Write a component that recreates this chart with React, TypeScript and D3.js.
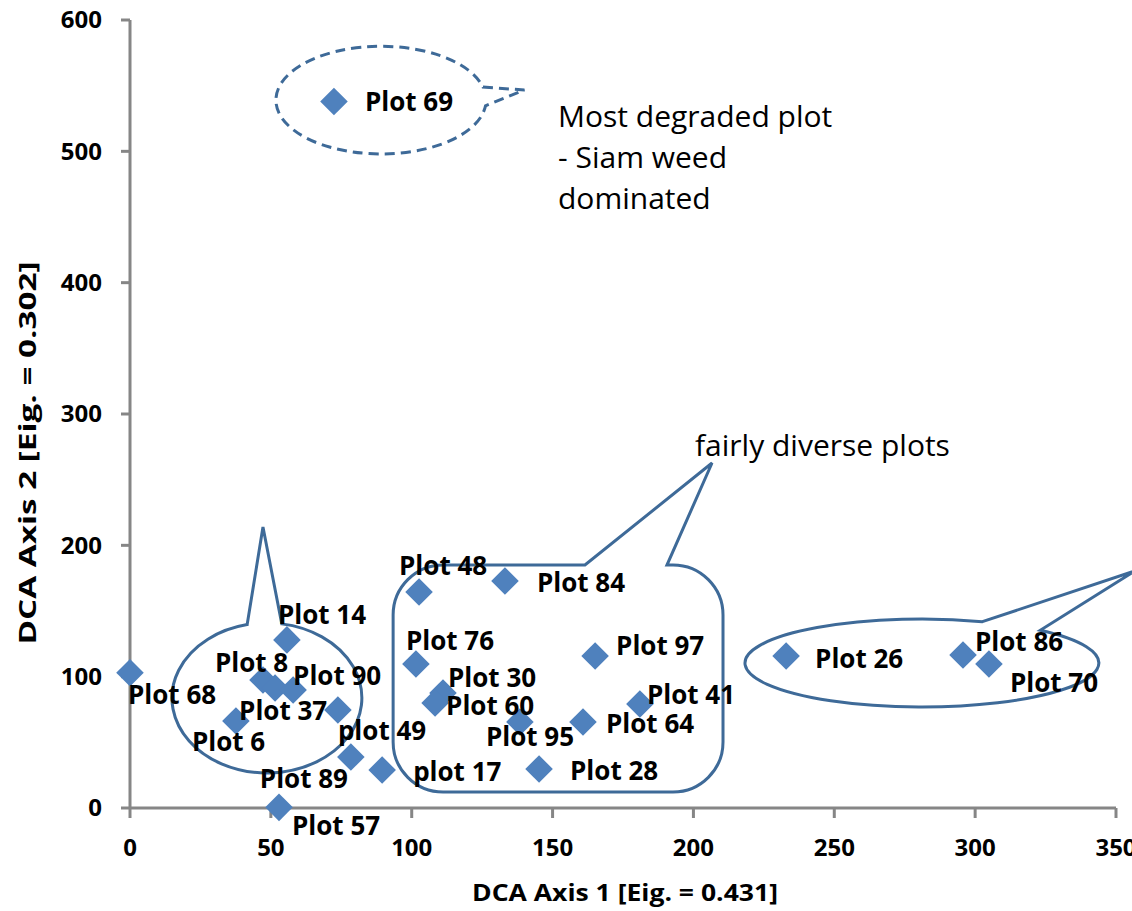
import React from "react";
import * as d3 from "d3";

// ---- Data ----
const plotNames = [
  "Plot 69", "Plot 68", "Plot 14", "Plot 8", "Plot 37", "Plot 90", "plot 49", "Plot 6",
  "Plot 89", "plot 17", "Plot 57", "Plot 48", "Plot 84", "Plot 76", "Plot 30", "Plot 60",
  "Plot 95", "Plot 64", "Plot 41", "Plot 97", "Plot 28", "Plot 26", "Plot 86", "Plot 70",
];
const axis1 = [
  72.4, 0, 55.7, 47.2, 51.5, 57.9, 73.8, 37.6,
  78.4, 89.5, 52.9, 102.6, 133.1, 101.5, 111.1, 108.3,
  138.4, 160.8, 181.0, 165.1, 145.2, 232.9, 295.7, 304.9,
];
const axis2 = [
  538, 103, 128, 97.5, 91.4, 89.9, 74.6, 66.2,
  38.8, 28.9, 0.5, 164.5, 172.8, 109.6, 87.6, 80.0,
  65.5, 65.5, 79.2, 115.7, 29.7, 115.7, 116.5, 109.6,
];
const xTicks = [0, 50, 100, 150, 200, 250, 300, 350];
const yTicks = [0, 100, 200, 300, 400, 500, 600];

// label offsets (pixels, relative to the point) — layout only
const labelOffsets: [number, number][] = [
  [31, 0], [-2, 22], [-9, -25], [-48, -17], [-36, 23], [0, -14], [0, 21], [-44, 21],
  [-91, 22], [31, 2], [13, 19], [-20, -26], [32, 2], [-10, -23], [5, -15], [11, 3],
  [-34, 15], [23, 2], [7, -9], [21, -10], [31, 2], [29, 3], [12, -13], [21, 19],
];

const annotationMain = ["Most degraded plot", "- Siam weed", "dominated"];
const annotationDiverse = "fairly diverse plots";
const xTitle = "DCA Axis 1 [Eig. = 0.431]";
const yTitle = "DCA Axis 2 [Eig. = 0.302]";

const W = 1132;
const H = 911;
const FONT = "'Open Sans', 'Liberation Sans', Arial, sans-serif";
const AXIS_COLOR = "#868686";
const MARK_COLOR = "#4F81BD";
const SHAPE_COLOR = "#3E6A98";

export default function App() {
  const x = d3.scaleLinear().domain([0, 350]).range([130, 1116]);
  const y = d3.scaleLinear().domain([0, 600]).range([808, 20]);

  const diamond = d3.symbol().type(d3.symbolSquare).size(380)();

  // ellipse callout path builder (pixel space)
  const ellipseCallout = (
    cx: number, cy: number, rx: number, ry: number,
    tA: number, tB: number, tipX: number, tipY: number
  ) => {
    const ra = (tA * Math.PI) / 180;
    const rb = (tB * Math.PI) / 180;
    const ax = cx + rx * Math.cos(ra), ay = cy + ry * Math.sin(ra);
    const bx = cx + rx * Math.cos(rb), by = cy + ry * Math.sin(rb);
    return `M${ax},${ay} L${tipX},${tipY} L${bx},${by} A${rx},${ry} 0 1 1 ${ax},${ay} Z`;
  };

  // callout 1 (dashed, Plot 69)
  const c1cx = x(89.1), c1cy = y(539);
  const c1rx = x(37.3) - x(0), c1ry = y(0) - y(41);
  const c1 = ellipseCallout(c1cx, c1cy, c1rx, c1ry, -14, 6, x(140), y(546.7));

  // callout 2 (left cluster)
  const c2cx = x(48.6), c2cy = y(83.8);
  const c2rx = x(33.7) - x(0), c2ry = y(0) - y(57.1);
  const c2 = ellipseCallout(c2cx, c2cy, c2rx, c2ry, -102, -81, x(47.2), y(214));

  // callout 3 (right cluster)
  const c3cx = x(281.1), c3cy = y(110.4);
  const c3rx = x(62.8) - x(0), c3ry = y(0) - y(33.5);
  const c3 = ellipseCallout(c3cx, c3cy, c3rx, c3ry, -70, -48, x(356.7), y(180.5));

  // rounded rectangle callout
  const rx0 = x(93.4), rx1 = x(210.5), ry0 = y(185), ry1 = y(12.2);
  const r = 50;
  const bL = x(161.5), bR = x(190.6), tX = x(206.6), tY = y(262.7);
  const c4 =
    `M${rx0 + r},${ry0} L${bL},${ry0} L${tX},${tY} L${bR},${ry0} L${rx1 - r},${ry0} ` +
    `A${r},${r} 0 0 1 ${rx1},${ry0 + r} L${rx1},${ry1 - r} ` +
    `A${r},${r} 0 0 1 ${rx1 - r},${ry1} L${rx0 + r},${ry1} ` +
    `A${r},${r} 0 0 1 ${rx0},${ry1 - r} L${rx0},${ry0 + r} ` +
    `A${r},${r} 0 0 1 ${rx0 + r},${ry0} Z`;

  return (
    <svg
      width={W}
      height={H}
      style={{ position: "absolute", left: 0, top: 0, background: "#fff" }}
      fontFamily={FONT}
    >
      <rect width={W} height={H} fill="#fff" />

      {/* axes */}
      <line x1={x(0)} x2={x(0)} y1={y(600)} y2={y(0)} stroke={AXIS_COLOR} strokeWidth={3} />
      <line x1={x(0)} x2={x(350)} y1={y(0)} y2={y(0)} stroke={AXIS_COLOR} strokeWidth={3} />
      {yTicks.map((t) => (
        <g key={"y" + t}>
          <line x1={x(0) - 9} x2={x(0)} y1={y(t)} y2={y(t)} stroke={AXIS_COLOR} strokeWidth={3} />
          <text x={102} y={y(t)} dy="0.35em" textAnchor="end" fontSize={24} fontWeight={700} fill="#000">
            {t}
          </text>
        </g>
      ))}
      {xTicks.map((t) => (
        <g key={"x" + t}>
          <line x1={x(t)} x2={x(t)} y1={y(0)} y2={y(0) + 10} stroke={AXIS_COLOR} strokeWidth={3} />
          <text x={x(t)} y={848} dy="0.35em" textAnchor="middle" fontSize={24} fontWeight={700} fill="#000">
            {t}
          </text>
        </g>
      ))}

      {/* axis titles */}
      <text x={625} y={893} dy="0.35em" textAnchor="middle" fontSize={24} fontWeight={700}
        textLength={306} lengthAdjust="spacingAndGlyphs" fill="#000">
        {xTitle}
      </text>
      <text transform={`translate(28,453) rotate(-90)`} dy="0.35em" textAnchor="middle" fontSize={24}
        fontWeight={700} textLength={383} lengthAdjust="spacingAndGlyphs" fill="#000">
        {yTitle}
      </text>

      {/* callout shapes */}
      <path d={c1} fill="none" stroke={SHAPE_COLOR} strokeWidth={3} strokeDasharray="10,6" />
      <path d={c2} fill="none" stroke={SHAPE_COLOR} strokeWidth={3} strokeLinejoin="miter" />
      <path d={c3} fill="none" stroke={SHAPE_COLOR} strokeWidth={3} />
      <path d={c4} fill="none" stroke={SHAPE_COLOR} strokeWidth={3} />

      {/* points */}
      {plotNames.map((n, i) => (
        <path
          key={"p" + n}
          d={diamond || ""}
          transform={`translate(${x(axis1[i])},${y(axis2[i])}) rotate(45)`}
          fill={MARK_COLOR}
        />
      ))}
      {/* labels */}
      {plotNames.map((n, i) => (
        <text
          key={"l" + n}
          x={x(axis1[i]) + labelOffsets[i][0]}
          y={y(axis2[i]) + labelOffsets[i][1]}
          dy="0.35em"
          fontSize={26}
          fontWeight={700}
          fill="#000"
        >
          {n}
        </text>
      ))}

      {/* annotations */}
      {annotationMain.map((line, i) => (
        <text key={"a" + i} x={558} y={127 + i * 41} fontSize={30} fill="#000">
          {line}
        </text>
      ))}
      <text x={695} y={456} fontSize={30} fill="#000">
        {annotationDiverse}
      </text>
    </svg>
  );
}
